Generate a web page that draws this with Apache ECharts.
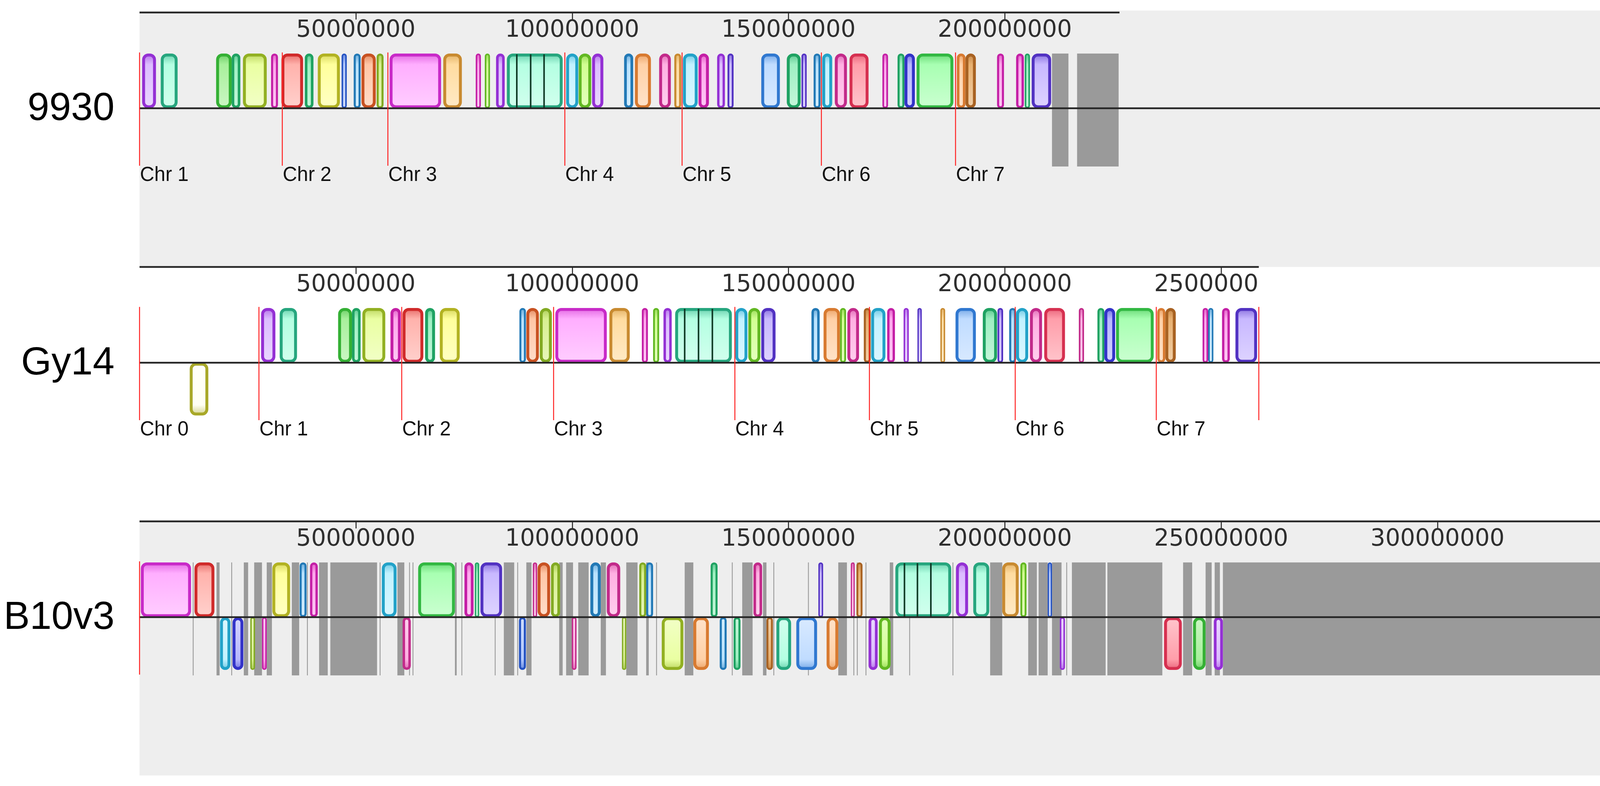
<!DOCTYPE html>
<html><head><meta charset="utf-8">
<script src="https://cdn.jsdelivr.net/npm/echarts@6/dist/echarts.min.js"></script>
<style>html,body{margin:0;padding:0;background:#fff}#c{width:4168px;height:2011px}</style>
</head><body><div id="c"></div>
<script>
// ---------------- DATA (positions in Mb) ----------------
const genomeNames = ['9930', 'Gy14', 'B10v3'];
const genomeLengthsMb = [226.5, 258.7, 342.3];
const tickValues9930 = [50, 100, 150, 200];
const tickValuesGy14 = [50, 100, 150, 200, 250];
const tickValuesB10 = [50, 100, 150, 200, 250, 300];

const chrStarts9930 = [0, 33.0, 57.4, 98.3, 125.4, 157.6, 188.6];
const chrLabels9930 = ['Chr 1', 'Chr 2', 'Chr 3', 'Chr 4', 'Chr 5', 'Chr 6', 'Chr 7'];
const chrStartsGy14 = [0, 27.6, 60.6, 95.7, 137.6, 168.7, 202.4, 235.0, 258.7];
const chrLabelsGy14 = ['Chr 0', 'Chr 1', 'Chr 2', 'Chr 3', 'Chr 4', 'Chr 5', 'Chr 6', 'Chr 7', ''];
const chrStartsB10 = [0];
const chrLabelsB10 = [''];

// [start, end, colour, strand]
const blocks9930 = [
  [0.6,3.8,'purple',1],[4.9,8.8,'teal',1],[17.7,21.3,'green',1],[21.3,23.3,'seagreen',1],
  [23.9,29.4,'ygreen',1],[30.4,32.0,'magenta',1],[32.8,37.8,'red',1],[38.2,40.2,'seagreen',1],
  [41.2,46.3,'yellow',1],[46.7,47.9,'blue',1],[49.5,51.1,'steel',1],[51.3,54.6,'orangered',1],
  [54.8,56.4,'olive',1],[57.8,69.7,'pink',1],[70.2,74.5,'tan',1],[77.7,78.9,'magenta',1],
  [79.8,81.0,'lime',1],[82.4,84.4,'purple',1],[84.9,97.8,'teal',1],[98.6,101.4,'cyan',1],
  [101.5,104.4,'lime',1],[104.6,107.2,'purple',1],[112.0,114.1,'steel',1],[114.5,118.2,'orange',1],
  [120.1,122.8,'mauve',1],[123.6,125.2,'tan',1],[125.6,129.0,'cyan',1],[129.2,131.6,'magenta',1],
  [133.5,135.3,'purple',1],[135.9,137.3,'violet',1],[143.7,148.0,'sky',1],[149.6,152.8,'seagreen',1],
  [153.0,154.2,'violet',1],[155.8,157.4,'steel',1],[157.8,160.1,'cyan',1],[160.7,163.5,'mauve',1],
  [164.1,168.5,'rose',1],[171.7,173.0,'magenta',1],[175.2,176.8,'seagreen',1],[176.8,179.2,'indigo',1],
  [179.6,188.1,'lgreen',1],[188.9,190.9,'orange',1],[190.9,193.3,'brown',1],[198.2,199.8,'magenta',1],
  [202.6,204.4,'magenta',1],[204.6,205.8,'seagreen',1],[206.2,210.7,'violet',1]
];
const blocksGy14 = [
  [11.6,15.9,'olivepale',-1],[28.1,31.4,'purple',1],[32.4,36.4,'teal',1],[45.9,49.1,'green',1],
  [49.1,51.1,'seagreen',1],[51.5,56.8,'ygreen',1],[58.0,60.4,'magenta',1],[60.8,65.6,'red',1],
  [66.0,68.3,'seagreen',1],[69.4,74.0,'yellow',1],[87.8,89.3,'steel',1],[89.4,92.3,'orangered',1],
  [92.5,95.3,'olive',1],[96.1,108.0,'pink',1],[108.6,113.3,'tan',1],[116.1,117.5,'magenta',1],
  [118.7,120.1,'lime',1],[121.1,123.0,'purple',1],[123.8,136.9,'teal',1],[137.7,140.5,'cyan',1],
  [140.7,143.5,'lime',1],[143.7,147.0,'violet',1],[155.3,157.2,'steel',1],[158.1,161.9,'orange',1],
  [161.9,163.3,'lime',1],[163.6,166.3,'mauve',1],[167.4,169.0,'brown',1],[169.1,172.4,'cyan',1],
  [172.8,174.6,'magenta',1],[176.6,177.8,'purple',1],[179.8,180.8,'violet',1],[185.1,186.2,'tan',1],
  [188.6,193.3,'sky',1],[194.9,198.2,'seagreen',1],[198.3,199.6,'violet',1],[201.0,202.6,'steel',1],
  [202.6,205.4,'cyan',1],[205.8,208.6,'mauve',1],[209.1,213.9,'rose',1],[217.1,218.3,'mauve',1],
  [221.4,223.0,'seagreen',1],[223.0,225.5,'indigo',1],[225.7,234.4,'lgreen',1],[235.2,237.1,'orange',1],
  [237.1,239.5,'brown',1],[245.7,247.0,'magenta',1],[247.0,248.2,'steel',1],[250.2,252.0,'magenta',1],
  [253.3,258.3,'violet',1]
];
const blocksB10 = [
  [0.3,11.9,'pink',1],[12.7,17.3,'red',1],[30.7,34.8,'yellow',1],[37.0,38.6,'steel',1],
  [39.4,41.2,'magenta',1],[56.0,59.4,'cyan',1],[64.4,72.9,'lgreen',1],[75.1,77.2,'magenta',1],
  [77.5,78.5,'seagreen',1],[78.8,83.8,'violet',1],[90.9,91.9,'mauve',1],[92.0,94.9,'orangered',1],
  [95.1,97.2,'olive',1],[104.2,106.6,'steel',1],[108.0,111.1,'mauve',1],[115.5,117.1,'olive',1],
  [117.1,118.7,'steel',1],[132.0,133.6,'seagreen',1],[141.9,143.9,'mauve',1],[156.9,158.0,'violet',1],
  [164.4,165.3,'mauve',1],[165.7,167.1,'brown',1],[174.7,187.6,'teal',1],[188.7,191.5,'purple',1],
  [192.7,196.4,'teal',1],[199.4,203.2,'tan',1],[203.6,205.0,'lime',1],[209.9,210.9,'blue',1],
  [18.6,21.0,'cyan',-1],[21.5,24.0,'indigo',-1],[25.6,26.7,'olive',-1],[28.3,29.4,'magenta',-1],
  [60.8,62.7,'mauve',-1],[87.7,89.3,'blue',-1],[99.9,101.0,'mauve',-1],[111.5,112.5,'olive',-1],
  [120.7,125.7,'ygreen',-1],[128.0,131.6,'orange',-1],[134.1,135.7,'steel',-1],[137.3,138.9,'seagreen',-1],
  [144.9,146.4,'brown',-1],[147.2,150.6,'teal',-1],[151.8,156.6,'sky',-1],[158.8,161.5,'orange',-1],
  [168.5,170.6,'purple',-1],[170.9,173.6,'lime',-1],[212.7,213.9,'purple',-1],[236.8,240.9,'rose',-1],
  [243.5,246.4,'green',-1],[248.3,250.4,'purple',-1]
];
// internal LCB boundaries (black lines) inside merged blocks
const separators9930 = [87.2, 90.4, 93.5];
const separatorsGy14 = [126.0, 129.2, 132.4];
const separatorsB10 = [176.8, 179.8, 182.9];
// unaligned (gray) regions [start, end]
const gray9930 = [[210.9,214.7],[216.7,226.3]];
const grayGy14 = [];
const grayB10 = [
  [12.3,12.5],[17.8,18.5],[21.2,21.4],[24.1,25.1],[26.5,28.3],[29.4,30.6],[35.2,36.9],[38.7,38.9],
  [41.5,43.5],[44.1,54.9],[55.5,55.7],[59.6,61.2],[62.3,62.5],[63.1,63.3],[72.9,73.3],[74.4,74.6],
  [82.1,82.3],[84.2,86.6],[87.3,87.5],[89.4,90.6],[97.0,97.8],[98.6,100.2],[101.4,103.8],[106.6,107.8],
  [112.5,115.1],[117.1,117.7],[119.4,119.6],[126.0,128.0],[136.9,137.1],[139.3,141.7],[144.1,144.9],
  [146.5,146.7],[154.5,154.7],[161.5,163.5],[165.0,165.2],[165.8,166.0],[167.8,168.0],[173.4,174.2],
  [177.9,178.1],[187.9,188.1],[196.6,199.4],[205.4,207.4],[207.8,209.9],[210.9,213.1],[214.2,214.4],
  [215.5,223.3],[223.7,236.4],[241.2,243.3],[246.4,247.8],[248.5,249.7],[250.4,342.3]
];

// ---------------- STYLE ----------------
const palette = {
  purple:['#9430d4','#dcbcff'], teal:['#26a67e','#b4ffe2'], green:['#34b034','#a8f09c'],
  seagreen:['#1fa262','#9ef0c2'], ygreen:['#92b022','#eaffa2'], magenta:['#c41fa6','#ffa6ec'],
  red:['#d02a2a','#ffb2ac'], yellow:['#b2b222','#ffff9c'], blue:['#2452c2','#b2c8ff'],
  steel:['#2279b6','#b8e2ff'], orangered:['#c85222','#ffc6a6'], olive:['#82aa22','#d8f090'],
  pink:['#c82ac8','#ffaeff'], tan:['#c88a30','#ffdca0'], violet:['#5232c2','#c8b8ff'],
  cyan:['#22a2c8','#c2f2ff'], orange:['#d87a30','#ffd0a6'], brown:['#a86222','#e8b070'],
  lgreen:['#32b842','#a8ffb2'], rose:['#d63050','#ff9eaa'], mauve:['#c22a8a','#ffb0e2'],
  lime:['#62b822','#d2ff92'], sky:['#3078d0','#c0dcff'], indigo:['#3232c8','#b8b8ff'],
  olivepale:['#a8a828','#fffff4']
};
const LEFT = 357.2, PX_PER_MB = 11.076, UNIT = 140;
const CENTERS = [277, 928, 1579];
const FULL = genomeLengthsMb[2];
const GRID_W = FULL * PX_PER_MB;

function hex2rgb(h){h=h.replace('#','');return [0,2,4].map(i=>parseInt(h.substr(i,2),16));}
function mix(a,b,t){const x=hex2rgb(a),y=hex2rgb(b);return 'rgb('+x.map((v,i)=>Math.round(v+(y[i]-v)*t)).join(',')+')';}

const panels = [
  {blocks:blocks9930, seps:separators9930, gray:gray9930, chr:chrStarts9930, chrL:chrLabels9930, ticks:tickValues9930},
  {blocks:blocksGy14, seps:separatorsGy14, gray:grayGy14, chr:chrStartsGy14, chrL:chrLabelsGy14, ticks:tickValuesGy14},
  {blocks:blocksB10, seps:separatorsB10, gray:grayB10, chr:chrStartsB10, chrL:chrLabelsB10, ticks:tickValuesB10}
];

const grids = [], xAxes = [], yAxes = [], series = [];
panels.forEach((p, i) => {
  grids.push({left: LEFT, width: GRID_W, top: CENTERS[i] - 1.75 * UNIT, height: 2.75 * UNIT});
  xAxes.push({
    gridIndex: i, type: 'value', min: 0, max: FULL, position: 'top',
    axisLine: {show: false, onZero: false}, splitLine: {show: false},
    axisTick: {show: true, inside: true, length: 18, lineStyle: {color: '#222', width: 2.5}, customValues: p.ticks},
    axisLabel: {show: true, inside: true, margin: 16, customValues: p.ticks,
      formatter: v => String(Math.round(v * 1e6)), fontFamily: 'DejaVu Sans', fontSize: 60, color: '#2e2e2e'}
  });
  yAxes.push({gridIndex: i, type: 'value', min: -1, max: 1.75, show: false});

  // gray unaligned regions
  series.push({
    type: 'custom', xAxisIndex: i, yAxisIndex: i, z: 2, clip: false, silent: true,
    data: p.gray.map(g => [g[0], g[1]]),
    renderItem: (params, api) => {
      const a = api.coord([api.value(0), 1]), b = api.coord([api.value(1), -1.064]);
      return {type: 'rect', shape: {x: a[0], y: a[1], width: Math.max(2, b[0] - a[0]), height: b[1] - a[1]},
        style: {fill: '#9a9a9a'}};
    }
  });
  // LCB blocks
  series.push({
    type: 'custom', xAxisIndex: i, yAxisIndex: i, z: 3, clip: false, silent: true,
    data: p.blocks.map(b => [b[0], b[1]]),
    renderItem: (params, api) => {
      const b = p.blocks[params.dataIndex];
      const pc = palette[b[2]];
      const up = b[3] > 0;
      const a = api.coord([b[0], 0]), e = api.coord([b[1], up ? 1 : -0.965]);
      let x0 = a[0], x1 = e[0];
      const lw = Math.max(3, Math.min(7.5, (x1 - x0) * 0.3));
      if (x1 - x0 < lw + 3) { const m = (x0 + x1) / 2; x0 = m - (lw + 3) / 2; x1 = m + (lw + 3) / 2; }
      const yTop = Math.min(a[1], e[1]), yBot = Math.max(a[1], e[1]);
      const w = x1 - x0 - lw, h = yBot - yTop - lw;
      const grad = new echarts.graphic.LinearGradient(0, up ? 0 : 1, 0, up ? 1 : 0, [
        {offset: 0, color: mix(pc[0], pc[1], 0.45)},
        {offset: 0.2, color: pc[1]},
        {offset: 1, color: mix(pc[1], '#ffffff', 0.4)}
      ]);
      return {type: 'rect', shape: {x: x0 + lw / 2, y: yTop + lw / 2, width: w, height: h, r: Math.min(12, w / 2)},
        style: {fill: grad, stroke: pc[0], lineWidth: lw}};
    }
  });
  // internal black separators
  series.push({
    type: 'custom', xAxisIndex: i, yAxisIndex: i, z: 4, clip: false, silent: true,
    data: p.seps.map(s => [s]),
    renderItem: (params, api) => {
      const a = api.coord([api.value(0), 1]), b = api.coord([api.value(0), 0]);
      return {type: 'line', shape: {x1: a[0], y1: a[1] + 2, x2: b[0], y2: b[1]}, style: {stroke: '#103a26', lineWidth: 4}};
    }
  });
  // axis line + centre line
  series.push({
    type: 'custom', xAxisIndex: i, yAxisIndex: i, z: 5, clip: false, silent: true,
    data: [[genomeLengthsMb[i]]],
    renderItem: (params, api) => {
      const a0 = api.coord([0, 1.75]), a1 = api.coord([api.value(0), 1.75]);
      const c0 = api.coord([0, 0]), c1 = api.coord([FULL, 0]);
      return {type: 'group', children: [
        {type: 'line', shape: {x1: a0[0], y1: a0[1], x2: a1[0], y2: a1[1]}, style: {stroke: '#262626', lineWidth: 4.5}},
        {type: 'line', shape: {x1: c0[0], y1: c0[1], x2: c1[0], y2: c1[1]}, style: {stroke: '#262626', lineWidth: 4.5}}
      ]};
    }
  });
  // chromosome boundaries
  series.push({
    type: 'custom', xAxisIndex: i, yAxisIndex: i, z: 6, clip: false, silent: true,
    data: p.chr.map(c => [c]),
    renderItem: (params, api) => {
      const a = api.coord([api.value(0), 1.02]), b = api.coord([api.value(0), -1.05]);
      const lab = api.coord([api.value(0), -1.064]);
      return {type: 'group', children: [
        {type: 'line', shape: {x1: a[0], y1: a[1], x2: b[0], y2: b[1]}, style: {stroke: '#ff2424', lineWidth: 2.5}},
        {type: 'text', x: lab[0] + 1, y: lab[1] - 3, style: {text: p.chrL[params.dataIndex], fontFamily: 'Liberation Sans, Arial',
          fontSize: 51, fill: '#111', align: 'left', verticalAlign: 'top'}}
      ]};
    }
  });
});

const graphics = [
  {type: 'rect', z: -10, shape: {x: LEFT, y: CENTERS[0] - 1.75 * UNIT - 5, width: GRID_W, height: (CENTERS[1] - 1.75 * UNIT) - (CENTERS[0] - 1.75 * UNIT - 5)}, style: {fill: '#eeeeee'}},
  {type: 'rect', z: -10, shape: {x: LEFT, y: CENTERS[2] - 1.75 * UNIT - 5, width: GRID_W, height: 655}, style: {fill: '#eeeeee'}},
  // Gy14 ruler is only as wide as the genome: hide the overflow of its last label
  {type: 'rect', z: 100, shape: {x: LEFT + genomeLengthsMb[1] * PX_PER_MB + 2, y: CENTERS[1] - 1.75 * UNIT + 8, width: 130, height: 85}, style: {fill: '#ffffff'}}
];
genomeNames.forEach((n, i) => {
  graphics.push({type: 'text', z: 50, x: 293, y: CENTERS[i] + 2,
    style: {text: n, fontFamily: 'Liberation Sans, Arial', fontSize: 100, fill: '#000', align: 'right', verticalAlign: 'middle'}});
});

const chart = echarts.init(document.getElementById('c'), null, {renderer: 'canvas', width: 4168, height: 2011});
chart.setOption({
  backgroundColor: '#ffffff', animation: false,
  grid: grids, xAxis: xAxes, yAxis: yAxes, series: series, graphic: graphics
});
</script></body></html>
